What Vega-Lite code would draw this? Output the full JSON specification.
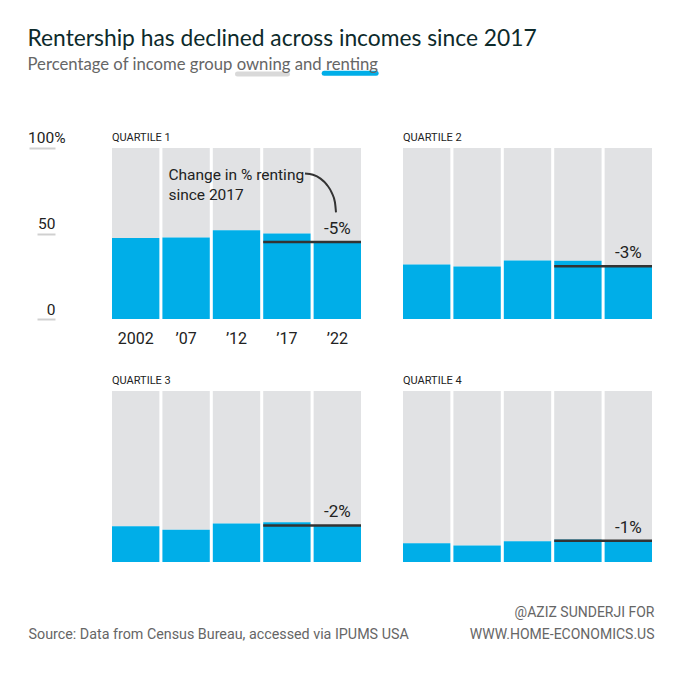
{
  "$schema": "https://vega.github.io/schema/vega-lite/v6.json",
  "background": "white",
  "padding": {"left": 27, "top": 28, "right": 20, "bottom": 20},
  "title": {
    "text": "Rentership has declined across incomes since 2017",
    "subtitle": "Percentage of income group owning and renting",
    "anchor": "start",
    "frame": "bounds",
    "font": "Lato",
    "fontSize": 22.8,
    "fontWeight": "normal",
    "color": "#0d2a2b",
    "subtitleFont": "Lato",
    "subtitleFontSize": 16.7,
    "subtitleColor": "#666666",
    "subtitlePadding": 6,
    "offset": -3
  },
  "datasets": {
    "bars": [
      {"q": "QUARTILE 1", "year": "2002", "rent": 47.4},
      {"q": "QUARTILE 1", "year": "’07", "rent": 47.6},
      {"q": "QUARTILE 1", "year": "’12", "rent": 51.9},
      {"q": "QUARTILE 1", "year": "’17", "rent": 50.0},
      {"q": "QUARTILE 1", "year": "’22", "rent": 45.0, "change": "-5%"},
      {"q": "QUARTILE 2", "year": "2002", "rent": 31.8},
      {"q": "QUARTILE 2", "year": "’07", "rent": 30.7},
      {"q": "QUARTILE 2", "year": "’12", "rent": 34.2},
      {"q": "QUARTILE 2", "year": "’17", "rent": 34.1},
      {"q": "QUARTILE 2", "year": "’22", "rent": 30.8, "change": "-3%"},
      {"q": "QUARTILE 3", "year": "2002", "rent": 20.9},
      {"q": "QUARTILE 3", "year": "’07", "rent": 18.8},
      {"q": "QUARTILE 3", "year": "’12", "rent": 22.5},
      {"q": "QUARTILE 3", "year": "’17", "rent": 23.3},
      {"q": "QUARTILE 3", "year": "’22", "rent": 21.4, "change": "-2%"},
      {"q": "QUARTILE 4", "year": "2002", "rent": 11.0},
      {"q": "QUARTILE 4", "year": "’07", "rent": 9.7},
      {"q": "QUARTILE 4", "year": "’12", "rent": 12.2},
      {"q": "QUARTILE 4", "year": "’17", "rent": 13.2},
      {"q": "QUARTILE 4", "year": "’22", "rent": 12.4, "change": "-1%"}
    ],
    "connector": [
      {"u": 3.829, "pct": 85.13},
      {"u": 3.988, "pct": 84.37},
      {"u": 4.137, "pct": 82.10},
      {"u": 4.264, "pct": 78.48},
      {"u": 4.361, "pct": 73.76},
      {"u": 4.423, "pct": 68.28},
      {"u": 4.444, "pct": 62.39}
    ]
  },
  "columns": 2,
  "bounds": "flush",
  "spacing": {"row": 72, "column": 42},
  "concat": [
    {
      "width": 249, "height": 171,
      "layer": [
        {
          "data": {"name": "bars"},
          "transform": [{"filter": "datum.q === 'QUARTILE 1'"}],
          "layer": [
            {
              "mark": {"type": "bar", "color": "#e1e2e4"},
              "encoding": {
                "x": {"field": "year", "type": "nominal", "sort": ["2002", "’07", "’12", "’17", "’22"], "scale": {"paddingInner": 0.06, "paddingOuter": 0},
                  "axis": {"orient": "bottom", "domain": false, "ticks": false, "tickSize": 0, "labelPadding": 24, "labelBaseline": "alphabetic", "labelFontSize": 16, "labelAngle": 0, "title": null}},
                "y": {"field": "rent", "type": "quantitative", "scale": {"domain": [0, 100], "nice": false},
                  "axis": {"values": [0, 50, 100], "orient": "left", "offset": 57, "domain": false, "grid": false, "ticks": true, "tickColor": "#d0d0d0", "tickWidth": 2,
                    "tickSize": {"condition": {"test": "datum.value === 100", "value": 26}, "value": 18},
                    "labelPadding": {"condition": {"test": "datum.value === 100", "value": -36}, "value": -18},
                    "labelAlign": "right", "labelBaseline": "alphabetic",
                    "labelOffset": {"condition": {"test": "datum.value === 100", "value": -6}, "value": -5},
                    "labelFontSize": 15.5,
                    "labelExpr": "datum.value === 100 ? '100%' : datum.label", "title": null}},
                "y2": {"datum": 100}
              }
            },
            {
              "mark": {"type": "bar", "color": "#00aee8"},
              "encoding": {
                "x": {"field": "year", "type": "nominal", "sort": ["2002", "’07", "’12", "’17", "’22"]},
                "y": {"field": "rent", "type": "quantitative"}
              }
            },
            {
              "transform": [{"filter": "datum.year === '’22'"}],
              "mark": {"type": "rule", "color": "#333333", "strokeWidth": 2.5},
              "encoding": {
                "x": {"datum": "’17", "bandPosition": 0},
                "x2": {"datum": "’22", "bandPosition": 1},
                "y": {"field": "rent", "type": "quantitative"}
              }
            },
            {
              "transform": [{"filter": "datum.year === '’22'"}],
              "mark": {"type": "text", "align": "center", "baseline": "alphabetic", "dy": -8, "fontSize": 17, "color": "#222222"},
              "encoding": {
                "x": {"field": "year", "type": "nominal", "sort": ["2002", "’07", "’12", "’17", "’22"]},
                "y": {"field": "rent", "type": "quantitative"},
                "text": {"field": "change"}
              }
            },
            {
              "transform": [{"filter": "datum.year === '2002'"}],
              "mark": {"type": "text", "align": "left", "baseline": "alphabetic", "dy": -7, "fontSize": 11, "color": "#222222"},
              "encoding": {
                "x": {"field": "year", "type": "nominal", "sort": ["2002", "’07", "’12", "’17", "’22"], "bandPosition": 0},
                "y": {"datum": 100},
                "text": {"field": "q"}
              }
            },
            {
              "transform": [{"filter": "datum.year === '2002'"}],
              "mark": {"type": "text", "align": "left", "baseline": "alphabetic", "dx": 6, "fontSize": 15.5, "lineHeight": 20.7, "color": "#222222", "lineBreak": "\n"},
              "encoding": {
                "x": {"datum": "’07", "bandPosition": 0},
                "y": {"datum": 81.5},
                "text": {"value": "Change in % renting\nsince 2017"}
              }
            }
          ]
        },
        {
          "layer": [
            {
              "data": {"name": "connector"},
              "mark": {"type": "line", "color": "#333333", "strokeWidth": 2, "interpolate": "monotone"},
              "encoding": {
                "x": {"field": "u", "type": "quantitative", "scale": {"domain": [0, 4.94], "nice": false, "zero": false}, "axis": null},
                "y": {"field": "pct", "type": "quantitative"}
              }
            },
            {
              "data": {"values": [{"series": "owning"}]},
              "mark": {"type": "rule", "color": "#d9d9d9", "strokeWidth": 5, "strokeCap": "round"},
              "encoding": {
                "x": {"datum": 2.49, "type": "quantitative"},
                "x2": {"datum": 3.48},
                "y": {"datum": 143.3, "type": "quantitative"}
              }
            },
            {
              "data": {"values": [{"series": "renting"}]},
              "mark": {"type": "rule", "color": "#00aee8", "strokeWidth": 5, "strokeCap": "round"},
              "encoding": {
                "x": {"datum": 4.21, "type": "quantitative"},
                "x2": {"datum": 5.24},
                "y": {"datum": 143.7, "type": "quantitative"}
              }
            }
          ]
        }
      ],
      "resolve": {"scale": {"x": "independent"}}
    },
    {
      "width": 249, "height": 171,
      "data": {"name": "bars"},
      "transform": [{"filter": "datum.q === 'QUARTILE 2'"}],
      "layer": [
        {
          "mark": {"type": "bar", "color": "#e1e2e4"},
          "encoding": {
            "x": {"field": "year", "type": "nominal", "sort": ["2002", "’07", "’12", "’17", "’22"], "scale": {"paddingInner": 0.06, "paddingOuter": 0}, "axis": null},
            "y": {"field": "rent", "type": "quantitative", "scale": {"domain": [0, 100], "nice": false}, "axis": null},
            "y2": {"datum": 100}
          }
        },
        {
          "mark": {"type": "bar", "color": "#00aee8"},
          "encoding": {
            "x": {"field": "year", "type": "nominal", "sort": ["2002", "’07", "’12", "’17", "’22"]},
            "y": {"field": "rent", "type": "quantitative"}
          }
        },
        {
          "transform": [{"filter": "datum.year === '’22'"}],
          "mark": {"type": "rule", "color": "#333333", "strokeWidth": 2.5},
          "encoding": {
            "x": {"datum": "’17", "bandPosition": 0},
            "x2": {"datum": "’22", "bandPosition": 1},
            "y": {"field": "rent", "type": "quantitative"}
          }
        },
        {
          "transform": [{"filter": "datum.year === '’22'"}],
          "mark": {"type": "text", "align": "center", "baseline": "alphabetic", "dy": -8, "fontSize": 17, "color": "#222222"},
          "encoding": {
            "x": {"field": "year", "type": "nominal", "sort": ["2002", "’07", "’12", "’17", "’22"]},
            "y": {"field": "rent", "type": "quantitative"},
            "text": {"field": "change"}
          }
        },
        {
          "transform": [{"filter": "datum.year === '2002'"}],
          "mark": {"type": "text", "align": "left", "baseline": "alphabetic", "dy": -7, "fontSize": 11, "color": "#222222"},
          "encoding": {
            "x": {"field": "year", "type": "nominal", "sort": ["2002", "’07", "’12", "’17", "’22"], "bandPosition": 0},
            "y": {"datum": 100},
            "text": {"field": "q"}
          }
        }
      ]
    },
    {
      "width": 249, "height": 171,
      "data": {"name": "bars"},
      "transform": [{"filter": "datum.q === 'QUARTILE 3'"}],
      "layer": [
        {
          "mark": {"type": "bar", "color": "#e1e2e4"},
          "encoding": {
            "x": {"field": "year", "type": "nominal", "sort": ["2002", "’07", "’12", "’17", "’22"], "scale": {"paddingInner": 0.06, "paddingOuter": 0},
              "axis": {"orient": "bottom", "labels": false, "ticks": false, "domain": false, "title": "Source: Data from Census Bureau, accessed via IPUMS USA",
                "titleAnchor": "start", "titleAlign": "left", "titleBaseline": "alphabetic", "titleX": -84, "titleY": 76, "titleFontSize": 14.3, "titleColor": "#666666", "titleFontWeight": "normal"}},
            "y": {"field": "rent", "type": "quantitative", "scale": {"domain": [0, 100], "nice": false}, "axis": null},
            "y2": {"datum": 100}
          }
        },
        {
          "mark": {"type": "bar", "color": "#00aee8"},
          "encoding": {
            "x": {"field": "year", "type": "nominal", "sort": ["2002", "’07", "’12", "’17", "’22"]},
            "y": {"field": "rent", "type": "quantitative"}
          }
        },
        {
          "transform": [{"filter": "datum.year === '’22'"}],
          "mark": {"type": "rule", "color": "#333333", "strokeWidth": 2.5},
          "encoding": {
            "x": {"datum": "’17", "bandPosition": 0},
            "x2": {"datum": "’22", "bandPosition": 1},
            "y": {"field": "rent", "type": "quantitative"}
          }
        },
        {
          "transform": [{"filter": "datum.year === '’22'"}],
          "mark": {"type": "text", "align": "center", "baseline": "alphabetic", "dy": -8, "fontSize": 17, "color": "#222222"},
          "encoding": {
            "x": {"field": "year", "type": "nominal", "sort": ["2002", "’07", "’12", "’17", "’22"]},
            "y": {"field": "rent", "type": "quantitative"},
            "text": {"field": "change"}
          }
        },
        {
          "transform": [{"filter": "datum.year === '2002'"}],
          "mark": {"type": "text", "align": "left", "baseline": "alphabetic", "dy": -7, "fontSize": 11, "color": "#222222"},
          "encoding": {
            "x": {"field": "year", "type": "nominal", "sort": ["2002", "’07", "’12", "’17", "’22"], "bandPosition": 0},
            "y": {"datum": 100},
            "text": {"field": "q"}
          }
        }
      ]
    },
    {
      "width": 249, "height": 171,
      "data": {"name": "bars"},
      "transform": [{"filter": "datum.q === 'QUARTILE 4'"}],
      "layer": [
        {
          "mark": {"type": "bar", "color": "#e1e2e4"},
          "encoding": {
            "x": {"field": "year", "type": "nominal", "sort": ["2002", "’07", "’12", "’17", "’22"], "scale": {"paddingInner": 0.06, "paddingOuter": 0},
              "axis": {"orient": "bottom", "labels": false, "ticks": false, "domain": false, "title": ["@AZIZ SUNDERJI FOR", "WWW.HOME-ECONOMICS.US"],
                "titleAnchor": "end", "titleAlign": "right", "titleBaseline": "alphabetic", "titleX": 251, "titleY": 54, "titleLineHeight": 22, "titleFontSize": 14, "titleColor": "#666666", "titleFontWeight": "normal"}},
            "y": {"field": "rent", "type": "quantitative", "scale": {"domain": [0, 100], "nice": false}, "axis": null},
            "y2": {"datum": 100}
          }
        },
        {
          "mark": {"type": "bar", "color": "#00aee8"},
          "encoding": {
            "x": {"field": "year", "type": "nominal", "sort": ["2002", "’07", "’12", "’17", "’22"]},
            "y": {"field": "rent", "type": "quantitative"}
          }
        },
        {
          "transform": [{"filter": "datum.year === '’22'"}],
          "mark": {"type": "rule", "color": "#333333", "strokeWidth": 2.5},
          "encoding": {
            "x": {"datum": "’17", "bandPosition": 0},
            "x2": {"datum": "’22", "bandPosition": 1},
            "y": {"field": "rent", "type": "quantitative"}
          }
        },
        {
          "transform": [{"filter": "datum.year === '’22'"}],
          "mark": {"type": "text", "align": "center", "baseline": "alphabetic", "dy": -8, "fontSize": 17, "color": "#222222"},
          "encoding": {
            "x": {"field": "year", "type": "nominal", "sort": ["2002", "’07", "’12", "’17", "’22"]},
            "y": {"field": "rent", "type": "quantitative"},
            "text": {"field": "change"}
          }
        },
        {
          "transform": [{"filter": "datum.year === '2002'"}],
          "mark": {"type": "text", "align": "left", "baseline": "alphabetic", "dy": -7, "fontSize": 11, "color": "#222222"},
          "encoding": {
            "x": {"field": "year", "type": "nominal", "sort": ["2002", "’07", "’12", "’17", "’22"], "bandPosition": 0},
            "y": {"datum": 100},
            "text": {"field": "q"}
          }
        }
      ]
    }
  ],
  "config": {
    "view": {"stroke": null},
    "font": "Roboto",
    "axis": {"labelFont": "Roboto", "titleFont": "Roboto", "labelColor": "#222222"},
    "text": {"font": "Roboto"}
  }
}
